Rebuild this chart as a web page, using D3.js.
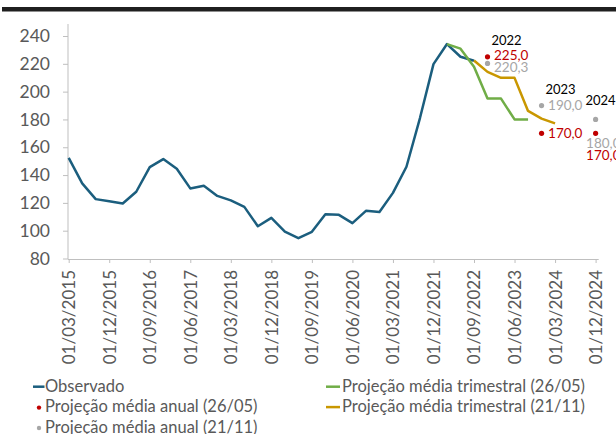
<!DOCTYPE html>
<html><head><meta charset="utf-8">
<script src="https://cdn.jsdelivr.net/npm/d3@7"></script>
<style>
html,body{margin:0;padding:0;background:#fff;}
svg text{font-family:Lato,"Open Sans",sans-serif;}
</style></head>
<body><svg id="c" width="616" height="434"></svg>
<script>
// ---- data ----
const tickLabels = ["01/03/2015","01/12/2015","01/09/2016","01/06/2017","01/03/2018","01/12/2018","01/09/2019","01/06/2020","01/03/2021","01/12/2021","01/09/2022","01/06/2023","01/03/2024","01/12/2024"];
const yTicks = [80,100,120,140,160,180,200,220,240];
// quarterly series, index 0 = 01/03/2015
const observadoStart = 0;
const observado = [152.4,134,122.7,121.2,119.6,128,145.7,151.5,144.5,130.4,132.3,125,121.8,117.1,103.2,109.2,99.4,94.6,99.2,111.9,111.4,105.4,114.3,113.5,127.2,146,181,219.8,234.2,225.1,222.2];
const trim2605Start = 28;
const trim2605 = [234.2,230.9,217.9,195,195,180,180];
const trim2111Start = 30;
const trim2111 = [222.4,214.2,209.9,209.9,186.1,180.6,177.2];
const annualYears = ["2022","2023","2024"];
const annualIdx = [31,35,39];
const anual2605 = [225.0,170.0,170.0];
const anual2111 = [220.3,190.0,180.0];
const legendItems = ["Observado","Projeção média trimestral (26/05)","Projeção média anual (26/05)","Projeção média trimestral (21/11)","Projeção média anual (21/11)"];

// ---- styles ----
const C = {obs:"#1B5E7E", green:"#70AD47", gold:"#C99700", red:"#C00000", gray:"#A6A6A6", text:"#595959", axis:"#BFBFBF"};

const svg = d3.select("#c");
svg.append("rect").attr("x",2).attr("y",7).attr("width",614).attr("height",4.5).attr("fill","#1f1f1f");

const x = d3.scaleLinear().domain([0,39]).range([68.7,595.6]);
const y = d3.scaleLinear().domain([80,240]).range([258.5,36]);

// y axis
const ya = svg.append("g").attr("transform","translate(68,0)")
  .call(d3.axisLeft(y).tickValues(yTicks).tickSize(5).tickPadding(13));
ya.select(".domain").remove();
ya.append("line").attr("x1",0).attr("x2",0).attr("y1",24).attr("y2",259).attr("stroke",C.axis);
ya.selectAll(".tick line").attr("stroke",C.axis);
ya.selectAll(".tick text").attr("fill",C.text).style("font-size","17.5px");

// x axis
const xa = svg.append("g").attr("transform","translate(0,259)")
  .call(d3.axisBottom(x).tickValues(d3.range(0,40,3)).tickFormat((d,i)=>tickLabels[i]).tickSize(4).tickSizeOuter(0));
xa.select(".domain").attr("d","M68,0.5H598.7").attr("stroke",C.axis);
xa.selectAll(".tick line").attr("stroke",C.axis);
xa.selectAll(".tick text").attr("fill",C.text).style("font-size","17px")
  .attr("transform","rotate(-90)").attr("text-anchor","end")
  .attr("x",-11).attr("y",0).attr("dy","0.35em");

// lines
const line = (start)=>d3.line().x((d,i)=>x(start+i)).y(d=>y(d));
function drawLine(data,start,color){
  svg.append("path").datum(data).attr("d",line(start)).attr("fill","none")
    .attr("stroke",color).attr("stroke-width",2.5).attr("stroke-linejoin","round");
}
drawLine(observado,observadoStart,C.obs);
drawLine(trim2605,trim2605Start,C.green);
drawLine(trim2111,trim2111Start,C.gold);

// annual points
const fmt = v=>d3.format(".1f")(v).replace(".",",");
annualIdx.forEach((q,i)=>{
  const cx = x(q);
  const yr = y(anual2605[i]), yg = y(anual2111[i]);
  svg.append("circle").attr("cx",cx).attr("cy",yg).attr("r",2.6).attr("fill",C.gray);
  svg.append("circle").attr("cx",cx).attr("cy",yr).attr("r",2.6).attr("fill",C.red);
  const top = Math.min(yg,yr);
  const last = i===annualIdx.length-1;
  svg.append("text").attr("x",cx+(last?5:19)).attr("y",top-(last?14:12)).attr("text-anchor","middle")
    .attr("fill","#000").style("font-size","13px").text(annualYears[i]);
  if(!last){
    let by = yr+4.5, gy = yg+4.5;
    if(Math.abs(gy-by)<11.5){ by = yr+3.5; gy = by+11.7; }
    svg.append("text").attr("x",cx+6.5).attr("y",gy)
      .attr("fill",C.gray).style("font-size","13.5px").text(fmt(anual2111[i]));
    svg.append("text").attr("x",cx+6.5).attr("y",by)
      .attr("fill",C.red).style("font-size","13.5px").text(fmt(anual2605[i]));
  } else {
    svg.append("text").attr("x",cx-9.5).attr("y",yr+15).attr("fill",C.gray)
      .style("font-size","13.5px").text(fmt(anual2111[i]));
    svg.append("text").attr("x",cx-9.5).attr("y",yr+27).attr("fill",C.red)
      .style("font-size","13.5px").text(fmt(anual2605[i]));
  }
});

// legend
const legColors = [C.obs,C.green,C.red,C.gold,C.gray];
const legKind = ["line","line","dot","line","dot"];
legendItems.forEach((t,i)=>{
  const col = (i%2===0)?0:1, row = Math.floor(i/2);
  const bx = col===0?33:326, by = 391.7+row*20.4;
  const g = svg.append("g");
  if(legKind[i]==="line"){
    g.append("line").attr("x1",bx).attr("x2",bx+(col===0?11.5:14)).attr("y1",by-5).attr("y2",by-5)
      .attr("stroke",legColors[i]).attr("stroke-width",2.5);
  } else {
    g.append("circle").attr("cx",bx+6).attr("cy",by-4.5).attr("r",2.2).attr("fill",legColors[i]);
  }
  g.append("text").attr("x",bx+(col===0?12:16)).attr("y",by).attr("fill",C.text)
    .style("font-size","16.5px").text(t);
});
</script></body></html>
